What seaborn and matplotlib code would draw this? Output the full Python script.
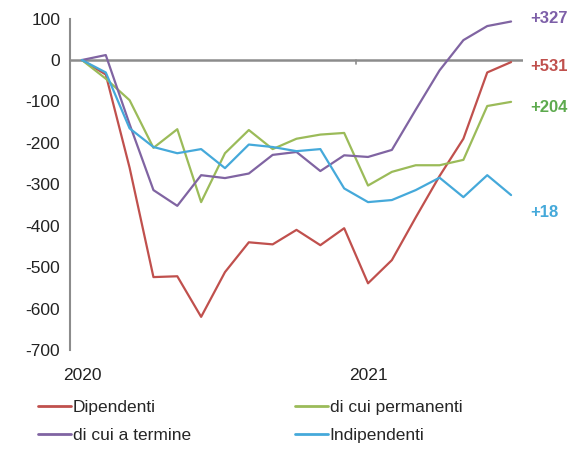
import matplotlib
matplotlib.use("Agg")
import matplotlib.pyplot as plt
import seaborn as sns
import pandas as pd
import numpy as np

# Monthly change in employment since January 2020 (thousands)
months = pd.date_range("2020-01-01", "2021-07-01", freq="MS").strftime("%Y-%m").tolist()

dipendenti = [0, -35, -260, -524, -522, -620, -512, -440, -445, -410, -447, -406,
              -539, -483, -380, -280, -190, -30, -5]
permanenti = [0, -45, -97, -212, -167, -343, -225, -169, -215, -190, -180, -176,
              -303, -270, -254, -254, -241, -111, -101]
a_termine = [0, 12, -155, -314, -352, -278, -285, -274, -229, -222, -268, -230,
             -234, -217, -120, -25, 48, 82, 93]
indipendenti = [0, -30, -165, -210, -225, -215, -261, -204, -210, -220, -215, -310,
                -343, -338, -314, -284, -331, -278, -326]

series_names = ["Dipendenti", "di cui permanenti", "di cui a termine", "Indipendenti"]
series_values = [dipendenti, permanenti, a_termine, indipendenti]
colors = ["#C0504D", "#9BBB59", "#8064A2", "#45A9DA"]
label_colors = ["#C0504D", "#5DAA4E", "#7D5FA8", "#45A9DA"]

end_labels = ["+531", "+204", "+327", "+18"]
end_label_y = [-15, -115, 100, -367]

year_labels = ["2020", "2021"]
year_months = ["2020-01", "2021-01"]

records = []
for name, vals in zip(series_names, series_values):
    for i, v in enumerate(vals):
        records.append({"idx": i, "month": months[i], "serie": name, "valore": v})
df = pd.DataFrame(records)

sns.set_style("white")
plt.rcParams["font.family"] = ["Liberation Sans", "DejaVu Sans"]
plt.rcParams["axes.unicode_minus"] = False

fig = plt.figure(figsize=(5.78, 4.49), dpi=100)
ax = fig.add_axes([70 / 578, 1 - 350 / 449, (523 - 70) / 578, (350 - 18.6) / 449])

palette = dict(zip(series_names, colors))
sns.lineplot(data=df, x="idx", y="valore", hue="serie", hue_order=series_names,
             palette=palette, linewidth=1.6, ax=ax, legend=False, zorder=3)

ax.set_xlim(-0.5, len(months) - 0.5)
ax.set_ylim(-700, 100)
ax.set_yticks(np.arange(-700, 101, 100))
ax.set_xlabel("")
ax.set_ylabel("")

# zero line acting as the category axis
ax.axhline(0, color="#8C8C8C", linewidth=1.8, zorder=2)

for side in ["top", "right", "bottom"]:
    ax.spines[side].set_visible(False)
ax.spines["left"].set_color("#8C8C8C")
ax.spines["left"].set_linewidth(1.5)

ax.tick_params(axis="y", direction="out", length=4, width=1.2, color="#8C8C8C",
               labelsize=12.5, labelcolor="#222222", pad=3)

# year labels under the plot
year_pos = [months.index(m) for m in year_months]
ax.set_xticks(year_pos)
ax.set_xticklabels(year_labels)
ax.tick_params(axis="x", length=0, labelsize=12.5, labelcolor="#222222", pad=13)

# small year-boundary tick on the zero line
boundary = months.index("2021-01") - 0.5
ax.plot([boundary, boundary], [0, -10], color="#8C8C8C", linewidth=1.2, zorder=2)

# cumulative change labels at the right end
for txt, yv, c in zip(end_labels, end_label_y, label_colors):
    ax.text(len(months) - 0.2, yv, txt, color=c, fontsize=12, fontweight="bold",
            ha="left", va="center", clip_on=False)

# legend: two columns below the chart
handles = [plt.Line2D([], [], color=c, linewidth=2) for c in colors]
order = [0, 2, 1, 3]
fig.legend([handles[i] for i in order], [series_names[i] for i in order],
           loc="upper left", bbox_to_anchor=(38 / 578, 1 - 400 / 449),
           ncol=2, frameon=False, fontsize=12.5, handlelength=1.9,
           handletextpad=0.1, columnspacing=6.0, labelspacing=0.75,
           borderaxespad=0, borderpad=0)

fig.savefig("out.png", dpi=100)
